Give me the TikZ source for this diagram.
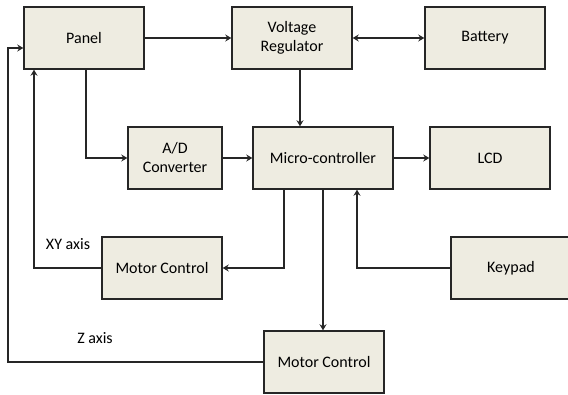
\documentclass[tikz,border=0pt]{standalone}
\usepackage{fontspec}
\setmainfont{Carlito}
\usepackage{tikz}
\usetikzlibrary{arrows.meta, positioning}
\definecolor{boxfill}{HTML}{EEECE1}
\definecolor{boxline}{HTML}{262626}

\begin{document}
\begin{tikzpicture}[
    x=1pt, y=-1pt,
    every node/.style={font=\fontsize{16}{19}\selectfont},
    block/.style={rectangle, draw=boxline, fill=boxfill, line width=1.4pt, align=center, minimum width=120pt, minimum height=62pt},
    flow/.style={-{Stealth[length=6pt,width=7pt,inset=2pt]}, line width=1.4pt, color=boxline},
    axlab/.style={inner sep=0pt}
]
\clip (0,0) rectangle (568,394);
% Blocks
\node[block] (panel)  at (84,38)   {Panel};
\node[block] (vreg)   at (292,38)  {Voltage\\Regulator};
\node[block] (batt)   at (485,38)  {Battery};
\node[block, minimum width=94pt] (adc) at (175,158) {A/D\\Converter};
\node[block, minimum width=140pt] (mcu) at (323,158) {Micro-controller};
\node[block] (lcd)    at (490,158) {LCD};
\node[block] (mxy)    at (162,268) {Motor Control};
\node[block] (keypad) at (511,268) {Keypad};
\node[block] (mz)     at (324,362) {Motor Control};

% Axis labels
\node[axlab] (xylab) at (68,244) {XY axis};
\node[axlab] (zlab)  at (95,338) {Z axis};

% Flows
\draw[flow] (panel) -- (vreg);
\draw[flow,{Stealth[length=6pt,width=7pt,inset=2pt]}-{Stealth[length=6pt,width=7pt,inset=2pt]}] (vreg) -- (batt);
\draw[flow] ([xshift=8pt]vreg.south) -- ([xshift=8pt]vreg.south |- mcu.north);
\draw[flow] ([xshift=2pt]panel.south) |- (adc.west);
\draw[flow] (adc) -- (mcu);
\draw[flow] (mcu) -- (lcd);
\draw[flow] ([xshift=-39pt]mcu.south) |- (mxy.east);
\draw[flow] (mcu.south) -- (mcu.south |- mz.north);
\draw[flow] (keypad.west) -| ([xshift=34pt]mcu.south);

% Feedback to the panel
\draw[flow] (mxy.west) -| ([xshift=-50pt]panel.south);
\coordinate (zleft) at (8,48);
\draw[flow] (mz.west) -| (zleft) -- ([yshift=-10pt]panel.west);
\end{tikzpicture}
\end{document}
